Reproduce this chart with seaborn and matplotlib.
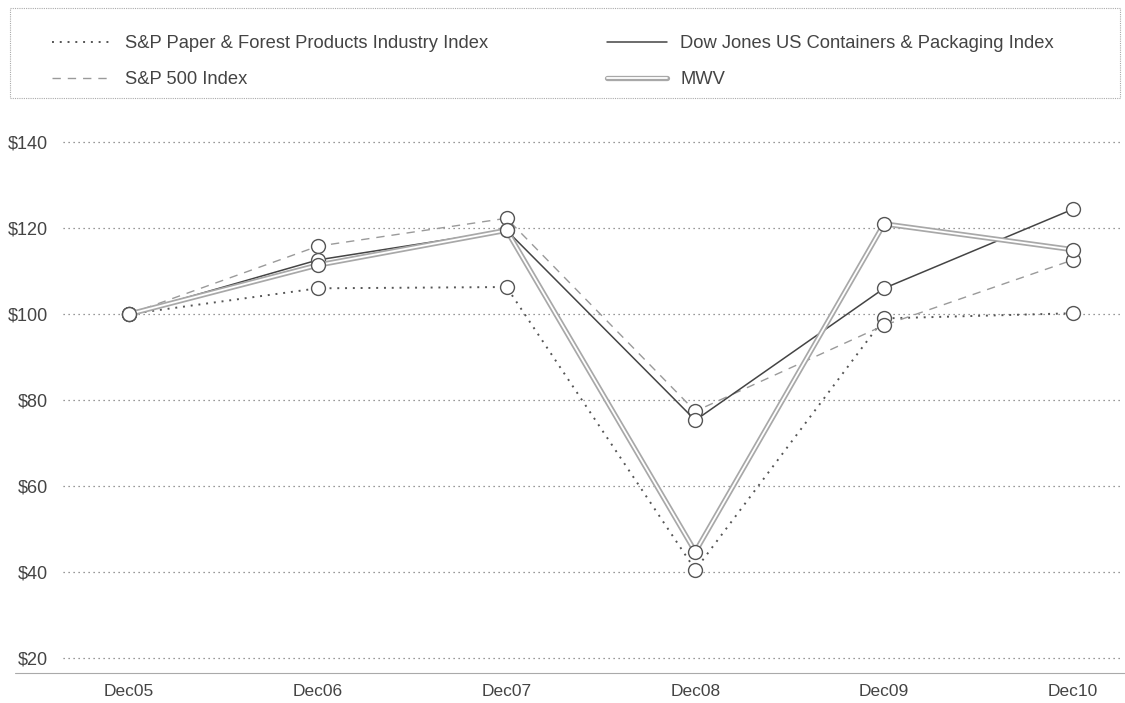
#!/usr/bin/env python3

import pandas
import seaborn as sns
import matplotlib.pyplot as plt
from matplotlib.lines import Line2D
from matplotlib.patches import Rectangle
from matplotlib.legend_handler import HandlerTuple

# Values (cumulative $100 investment)
years = ["Dec05", "Dec06", "Dec07", "Dec08", "Dec09", "Dec10"]
sp_paper = [100, 106.0, 106.3, 40.5, 99.0, 100.2]
sp_500 = [100, 115.8, 122.3, 77.4, 97.4, 112.6]
dow_jones = [100, 112.6, 119.5, 75.3, 106.0, 124.4]
mwv = [100, 111.4, 119.5, 44.7, 121.0, 115.0]
yticks = [20, 40, 60, 80, 100, 120, 140]

names = [
    "S&P Paper & Forest Products Industry Index",
    "S&P 500 Index",
    "Dow Jones US Containers & Packaging Index",
    "MWV",
]


def make_frame():
    """
    Long form table for seaborn.
    """
    rows = []
    for name, vals in zip(names, [sp_paper, sp_500, dow_jones, mwv]):
        for i, v in enumerate(vals):
            rows.append([name, i, v])
    return pandas.DataFrame(rows, columns=["series", "pos", "value"])


def main():
    df = make_frame()
    sns.set_style("white")
    plt.rcParams["font.family"] = ["Liberation Sans", "DejaVu Sans"]

    fig = plt.figure(figsize=(11.25, 7.03), dpi=100)
    ax = fig.add_axes([63 / 1125, 30 / 703, 1057 / 1125, 545 / 703])

    marker = dict(marker="o", markersize=10, markerfacecolor="white",
                  markeredgecolor="#555555", markeredgewidth=1.0)
    styles = {
        names[0]: dict(color="#555555", linewidth=1.4, linestyle=(0, (1, 3))),
        names[1]: dict(color="#9a9a9a", linewidth=1.0, linestyle=(0, (6, 5))),
        names[2]: dict(color="#444444", linewidth=1.1, linestyle="-"),
    }

    handles = []
    for name, sty in styles.items():
        sub = df[df.series == name]
        sns.lineplot(data=sub, x="pos", y="value", ax=ax, label=name,
                     **sty, **marker)
        handles.append(Line2D([], [], **sty))

    # MWV is a double rule: light grey band with a white core
    sub = df[df.series == names[3]]
    sns.lineplot(data=sub, x="pos", y="value", ax=ax, color="#a8a8a8",
                 linewidth=3.8, label="_mwv_outer")
    sns.lineplot(data=sub, x="pos", y="value", ax=ax, color="white",
                 linewidth=1.3, label="_mwv_inner", **marker)
    handles.append((Line2D([], [], color="#a8a8a8", linewidth=3.8),
                    Line2D([], [], color="white", linewidth=1.3)))
    ax.get_legend().remove()

    ax.set_xlim(-0.35, 5.25)
    ax.set_ylim(16.5, 143.3)
    ax.set_xticks(range(len(years)))
    ax.set_xticklabels(years)
    ax.set_yticks(yticks)
    ax.set_yticklabels([f"${t}" for t in yticks])
    ax.set_xlabel("")
    ax.set_ylabel("")
    ax.tick_params(axis="x", direction="out", length=5, width=0.6, color="#999999",
                   labelsize=12.5, labelcolor="#444444", pad=3)
    ax.tick_params(axis="y", length=0, labelsize=13, labelcolor="#444444", pad=11)
    ax.grid(axis="y", linestyle=(0, (1, 3)), color="#777777", linewidth=0.9)
    ax.grid(axis="x", visible=False)
    for side in ["top", "right", "left", "bottom"]:
        ax.spines[side].set_visible(False)

    # bottom rule runs across the whole page
    fig.add_artist(Line2D([15 / 1125, 1.0], [30 / 703, 30 / 703],
                          transform=fig.transFigure, color="#aaaaaa", linewidth=0.8))

    # legend box spanning the page width
    fig.add_artist(Rectangle((10 / 1125, 1 - 98 / 703), 1110 / 1125, 90 / 703,
                             transform=fig.transFigure, fill=False,
                             edgecolor="#aaaaaa", linewidth=0.8,
                             linestyle=(0, (1, 1))))

    leg = fig.legend(
        handles=handles,
        labels=names,
        ncol=2,
        loc="upper left",
        bbox_to_anchor=(52 / 1125, 1 - 35 / 703),
        frameon=False,
        fontsize=13.2,
        handler_map={tuple: HandlerTuple(ndivide=1)},
        handlelength=3.3,
        handletextpad=0.7,
        columnspacing=6.45,
        labelspacing=1.05,
        borderpad=0,
        borderaxespad=0,
    )
    for t in leg.get_texts():
        t.set_color("#444444")

    plt.savefig("out.png", dpi=100)


if __name__ == "__main__":
    main()
